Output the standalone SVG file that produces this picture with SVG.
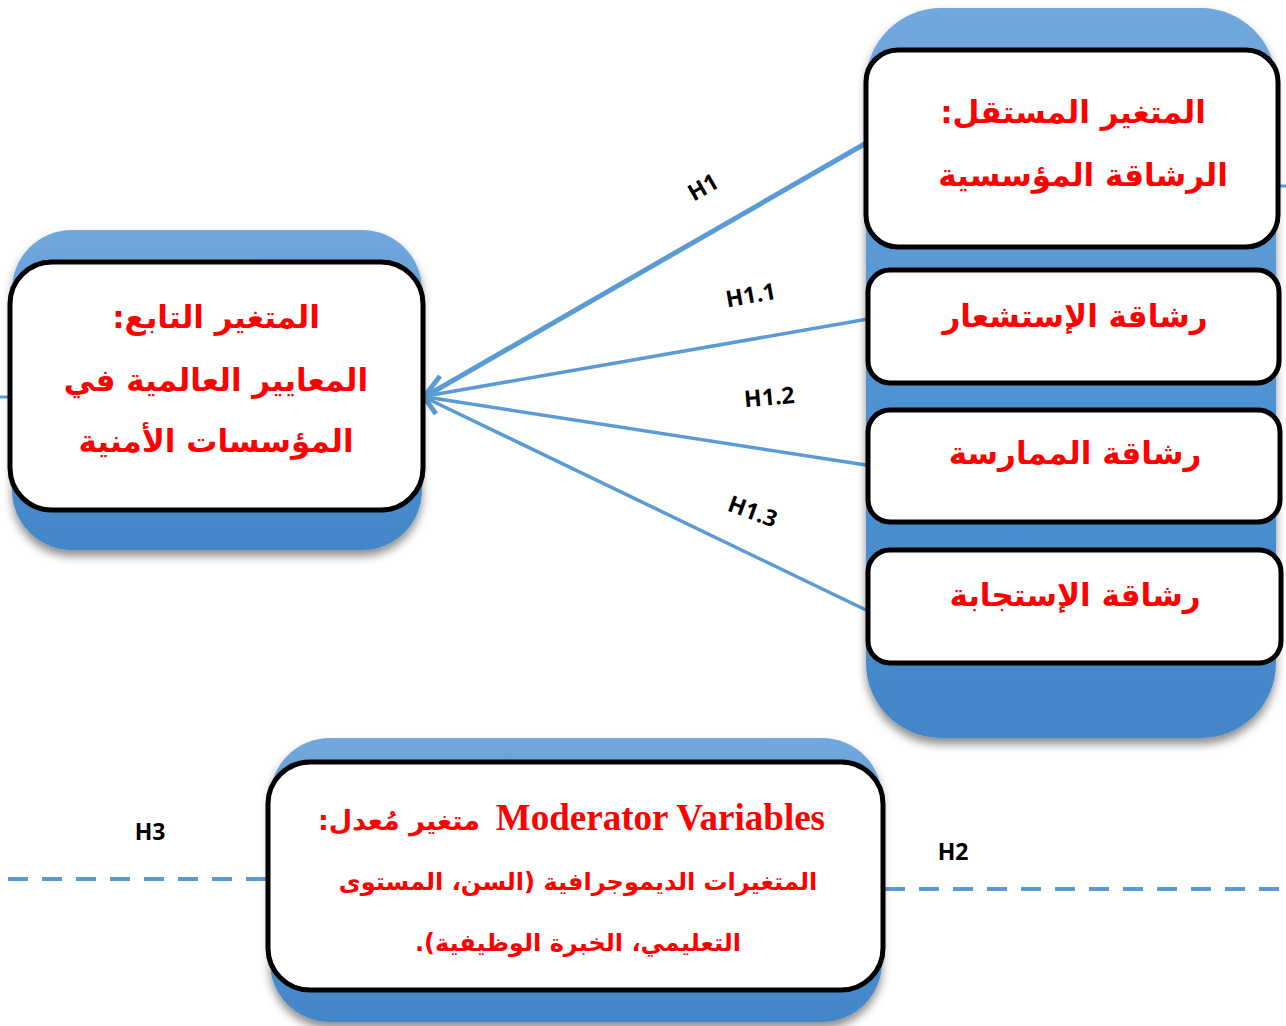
<svg xmlns="http://www.w3.org/2000/svg" width="1286" height="1026" viewBox="0 0 1286 1026">
<defs>
<linearGradient id="blueGrad" x1="0" y1="0" x2="0" y2="1">
<stop offset="0" stop-color="#72A8DC"/>
<stop offset="0.5" stop-color="#4F93D3"/>
<stop offset="1" stop-color="#4386C7"/>
</linearGradient>
<filter id="shadow" x="-10%" y="-10%" width="120%" height="125%">
<feDropShadow dx="0" dy="6" stdDeviation="5" flood-color="#000" flood-opacity="0.45"/>
</filter>
</defs>
<style>
.container{fill:url(#blueGrad);filter:url(#shadow);}
.box{fill:#fff;stroke:#000;stroke-width:5;}
.ar{font-family:"DejaVu Sans",sans-serif;font-weight:bold;fill:#FF0000;text-anchor:middle;direction:rtl;}
.en{font-family:"Liberation Serif",serif;font-weight:bold;fill:#FF0000;}
.lbl{font-family:"Open Sans","DejaVu Sans",sans-serif;font-weight:bold;fill:#000;font-size:23px;text-anchor:middle;}
.conn{stroke:#5B9BD5;fill:none;stroke-linecap:butt;}
.dash{stroke:#5B9BD5;stroke-width:4;stroke-dasharray:20 14;fill:none;}
</style>

<g id="connectors">
<line class="conn" x1="0" y1="397" x2="10" y2="397" stroke-width="3"/>
<line class="conn" x1="1278" y1="186" x2="1286" y2="186" stroke-width="3"/>
<line class="conn" x1="868" y1="142" x2="426" y2="396" stroke-width="5"/>
<line class="conn" x1="868" y1="319" x2="426" y2="396" stroke-width="3.5"/>
<line class="conn" x1="866" y1="465" x2="426" y2="397" stroke-width="3.5"/>
<line class="conn" x1="866" y1="610" x2="426" y2="398" stroke-width="3.5"/>
<path class="conn" d="M440,376 L424,397 L436,414" stroke-width="5" stroke-linejoin="round"/>
<line class="dash" x1="8" y1="879" x2="270" y2="879"/>
<line class="dash" x1="885" y1="889" x2="1286" y2="889"/>
<text class="lbl" transform="translate(707,194) rotate(-30)">H1</text>
<text class="lbl" transform="translate(752,303) rotate(-10)">H1.1</text>
<text class="lbl" transform="translate(770,405) rotate(-5)">H1.2</text>
<text class="lbl" transform="translate(750,519) rotate(20)">H1.3</text>
<text class="lbl" x="150" y="840" font-size="24">H3</text>
<text class="lbl" x="953" y="860" font-size="24">H2</text>
</g>

<g id="right-container">
<rect class="container" x="866" y="8" width="410" height="730" rx="75"/>
</g>
<g id="node-independent">
<rect class="box" x="866" y="50" width="412" height="197" rx="32"/>
<text class="ar" x="1073" y="123" font-size="31">المتغير المستقل:</text>
<text class="ar" x="1083" y="186" font-size="31">الرشاقة المؤسسية</text>
</g>
<g id="node-sensing">
<rect class="box" x="868" y="270" width="411" height="113" rx="22"/>
<text class="ar" x="1075" y="327" font-size="31">رشاقة الإستشعار</text>
</g>
<g id="node-practice">
<rect class="box" x="868" y="410" width="412" height="112" rx="22"/>
<text class="ar" x="1075" y="464" font-size="31">رشاقة الممارسة</text>
</g>
<g id="node-response">
<rect class="box" x="868" y="550" width="413" height="113" rx="22"/>
<text class="ar" x="1075" y="606" font-size="31">رشاقة الإستجابة</text>
</g>

<g id="left-container">
<rect class="container" x="12" y="230" width="410" height="320" rx="60"/>
</g>
<g id="node-dependent">
<rect class="box" x="10" y="262" width="413" height="248" rx="42"/>
<text class="ar" x="216" y="328" font-size="31">المتغير التابع:</text>
<text class="ar" x="216" y="391" font-size="31">المعايير العالمية في</text>
<text class="ar" x="216" y="452" font-size="31">المؤسسات الأمنية</text>
</g>

<g id="bottom-container">
<rect class="container" x="270" y="738" width="612" height="284" rx="60"/>
</g>
<g id="node-moderator">
<rect class="box" x="268" y="762" width="615" height="228" rx="42"/>
<text class="en" x="825" y="830" font-size="37" text-anchor="end">Moderator Variables</text>
<text class="ar" x="480" y="830" font-size="27" style="text-anchor:start">متغير مُعدل:</text>
<text class="ar" x="578" y="890" font-size="24">المتغيرات الديموجرافية (السن، المستوى</text>
<text class="ar" x="578" y="951" font-size="24">التعليمي، الخبرة الوظيفية).</text>
</g>
</svg>
